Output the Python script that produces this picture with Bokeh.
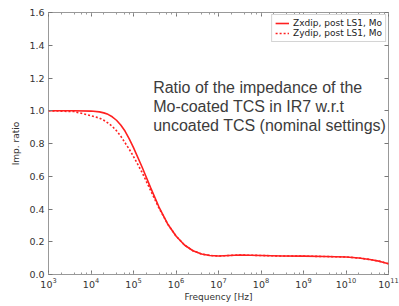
from bokeh.plotting import figure
from bokeh.models import (Label, LogAxis, LinearAxis, Legend, LegendItem,
                          PrintfTickFormatter, FixedTicker, Range1d, LogTicker,
                          CustomJSTickFormatter)
from bokeh.embed import file_html
from bokeh.resources import INLINE

# Frequency [Hz]
freq = [1e3, 3.98e3, 1e4, 1.58e4, 2e4, 2.51e4, 3.16e4, 3.98e4, 5.01e4, 6.31e4,
        7.94e4, 1e5, 1.58e5, 2.51e5, 3.98e5, 6.31e5, 1e6, 1.58e6, 2.51e6,
        3.98e6, 6.31e6, 1e7, 3.16e7, 1e8, 3.16e8, 1e9, 3.16e9, 1e10, 2e10,
        3.98e10, 6.31e10, 1e11]
# Zxdip, post LS1, Mo (solid)
zxdip = [1.0, 1.0, 0.998, 0.993, 0.987, 0.978, 0.963, 0.942, 0.913, 0.876,
         0.828, 0.775, 0.658, 0.532, 0.412, 0.31, 0.235, 0.18, 0.145,
         0.125, 0.116, 0.113, 0.119, 0.116, 0.113, 0.112, 0.110, 0.107, 0.101,
         0.090, 0.080, 0.066]
# Zydip, post LS1, Mo (dotted)
zydip = [1.0, 0.995, 0.97, 0.955, 0.942, 0.925, 0.905, 0.878, 0.845, 0.805,
         0.765, 0.72, 0.625, 0.515, 0.405, 0.31, 0.235, 0.18, 0.145,
         0.125, 0.116, 0.113, 0.119, 0.116, 0.113, 0.112, 0.110, 0.107, 0.101,
         0.090, 0.080, 0.066]
y_ticks = [0.0, 0.2, 0.4, 0.6, 0.8, 1.0, 1.2, 1.4, 1.6]
note_lines = ["Ratio of the impedance of the",
              "Mo-coated TCS in IR7 w.r.t",
              "uncoated TCS (nominal settings)"]

p = figure(width=399, height=306, x_axis_type="log",
           x_range=Range1d(1e3, 1e11), y_range=Range1d(0, 1.6),
           output_backend="svg", toolbar_location=None,
           min_border_left=48, min_border_right=11, min_border_top=12,
           min_border_bottom=32)
p.grid.visible = False
p.outline_line_color = "#999999"
p.background_fill_color = "white"
p.border_fill_color = "white"

tick_font = "DejaVu Sans"
for ax in p.xaxis + p.yaxis:
    ax.axis_line_color = None
    ax.major_tick_in = 4
    ax.major_tick_out = 0
    ax.major_tick_line_color = "#777777"
    ax.minor_tick_line_color = "#999999"
    ax.major_label_text_font = tick_font
    ax.major_label_text_font_size = "9.5px"
    ax.major_label_text_color = "#333333"
    ax.axis_label_text_font = tick_font
    ax.axis_label_text_font_size = "9px"
    ax.axis_label_text_font_style = "normal"
    ax.axis_label_text_color = "#333333"

p.xaxis.axis_label = "Frequency [Hz]"
p.xaxis.major_label_standoff = 3
p.xaxis.axis_label_standoff = 1
p.xaxis.minor_tick_in = 2
p.xaxis.minor_tick_out = 0
p.xaxis.ticker = LogTicker(desired_num_ticks=9)

p.yaxis.axis_label = "Imp. ratio"
p.yaxis.ticker = FixedTicker(ticks=y_ticks)
p.yaxis.formatter = PrintfTickFormatter(format="%.1f")
p.yaxis.major_label_standoff = 4
p.yaxis.axis_label_standoff = 5
p.yaxis.minor_tick_in = 0
p.yaxis.minor_tick_out = 0

blank = CustomJSTickFormatter(code="return ''")
top = LogAxis(ticker=LogTicker(desired_num_ticks=9), formatter=blank,
              axis_line_color=None,
              major_tick_in=4, major_tick_out=0, minor_tick_in=2, minor_tick_out=0,
              major_tick_line_color="#777777", minor_tick_line_color="#999999",
              major_label_standoff=0, major_label_text_font_size="1px")
right = LinearAxis(ticker=FixedTicker(ticks=y_ticks), formatter=blank,
                   axis_line_color=None,
                   major_tick_in=4, major_tick_out=0, minor_tick_in=0, minor_tick_out=0,
                   major_tick_line_color="#777777",
                   major_label_standoff=0, major_label_text_font_size="1px")
p.add_layout(top, "above")
p.add_layout(right, "right")

r1 = p.line(freq, zxdip, line_color="#ff2020", line_width=1.6)
r2 = p.line(freq, zydip, line_color="#ff2020", line_width=1.6, line_dash="2 2")

legend = Legend(items=[LegendItem(label="Zxdip, post LS1, Mo", renderers=[r1]),
                       LegendItem(label="Zydip, post LS1, Mo", renderers=[r2])],
                location="top_right", margin=2, padding=3, spacing=0,
                label_text_font=tick_font, label_text_font_size="9px",
                label_text_color="#222222", label_height=10, glyph_height=10,
                glyph_width=14, label_standoff=4,
                border_line_color="#aaaaaa", background_fill_alpha=1.0)
p.add_layout(legend)

note_x = 2.9e5
note_ys = [1.142, 1.026, 0.91]
for txt, ny in zip(note_lines, note_ys):
    p.add_layout(Label(x=note_x, y=ny, text=txt, text_font="Liberation Sans",
                       text_font_size="16px", text_color="#3c3c3c",
                       text_baseline="middle", text_align="left"))

open("out.html", "w").write(file_html(p, INLINE))
